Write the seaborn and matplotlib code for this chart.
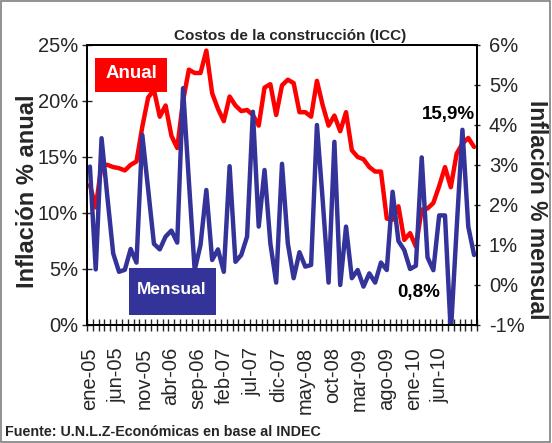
import matplotlib
matplotlib.use("Agg")
import numpy as np
import pandas as pd
import seaborn as sns
import matplotlib.pyplot as plt
from matplotlib.patches import Rectangle
from matplotlib import font_manager

# ---------------- data ----------------
mes_abbr = ["ene", "feb", "mar", "abr", "may", "jun", "jul", "ago", "sep", "oct", "nov", "dic"]
meses = [f"{mes_abbr[m]}-{y:02d}" for y in range(5, 11) for m in range(12)][:67]   # ene-05 .. jul-10

anual = [12.5, 10.5, 14.3, 14.3, 14.1, 14.0, 13.8, 14.3, 14.6, 17.7,
         20.3, 21.0, 18.6, 19.6, 16.9, 15.8, 20.0, 22.8, 22.5, 22.5,
         24.5, 20.7, 19.3, 18.2, 20.4, 19.6, 19.1, 19.2, 18.75, 17.8,
         21.2, 21.5, 18.75, 21.4, 21.9, 21.6, 19.0, 19.0, 18.6, 21.8,
         19.6, 17.8, 18.7, 17.3, 19.0, 15.6, 15.0, 14.8, 14.1, 13.7,
         13.7, 9.5, 9.4, 10.6, 7.6, 8.2, 7.0, 10.3, 10.4, 10.9,
         12.4, 14.1, 12.3, 15.3, 16.2, 16.7, 15.9]

mensual = [2.96, 0.39, 3.67, 2.2, 0.79, 0.33, 0.38, 0.9, 0.56, 3.75,
           2.4, 1.03, 0.89, 1.21, 1.36, 1.06, 4.92, 2.6, 0.375, 1.0,
           2.375, 0.625, 0.89, 0.33, 2.97, 0.58, 0.75, 1.21, 4.33, 1.46,
           2.875, 1.04, 0.06, 3.03, 1.04, 0.17, 0.82, 0.46, 0.5, 4.0,
           2.1, 0.06, 3.58, 0.0, 1.46, 0.17, 0.375, -0.04, 0.29, 0.06,
           0.56, 0.375, 2.33, 1.1, 0.875, 0.4, 0.48, 3.19, 0.69, 0.37,
           1.74, 1.74, -1.2, 1.4, 3.88, 1.46, 0.75]

etiquetas_x = ["ene-05", "jun-05", "nov-05", "abr-06", "sep-06", "feb-07", "jul-07",
               "dic-07", "may-08", "oct-08", "mar-09", "ago-09", "ene-10", "jun-10"]
ticks_anual = [0, 5, 10, 15, 20, 25]
ticks_mensual = [-1, 0, 1, 2, 3, 4, 5, 6]

# ---------------- style ----------------
sns.set_style("white")
avail = {f.name for f in font_manager.fontManager.ttflist}
base = "Liberation Sans" if "Liberation Sans" in avail else "DejaVu Sans"
plt.rcParams["font.family"] = [base, "DejaVu Sans"]

RED = "#FF0000"
BLUE = "#333399"
W, H = 552, 443

fig = plt.figure(figsize=(W / 100, H / 100), dpi=100)
L, R, T, B = 87, 477, 45, 325
ax = fig.add_axes([L / W, 1 - B / H, (R - L) / W, (B - T) / H])

df = pd.DataFrame({"idx": np.arange(len(anual)), "mes": meses,
                   "Anual": anual, "Mensual": mensual})

sns.lineplot(data=df, x="idx", y="Anual", ax=ax, color=RED, lw=3.2, legend=False)
ax2 = ax.twinx()
sns.lineplot(data=df, x="idx", y="Mensual", ax=ax2, color=BLUE, lw=3.2, legend=False)

n = len(anual)
ax.set_xlim(-0.5, n - 0.5)
ax.set_ylim(0, 25)
ax2.set_ylim(-1, 6)

# y axes
ax.set_yticks(ticks_anual)
ax.set_yticklabels([f"{v}%" for v in ticks_anual], fontsize=14.5)
ax2.set_yticks(ticks_mensual)
ax2.set_yticklabels([f"{v}%" for v in ticks_mensual], fontsize=14.5)
ax.tick_params(axis="y", direction="inout", length=7, width=1, pad=3, left=True)
ax2.tick_params(axis="y", direction="inout", length=5, width=1, pad=6, right=True)

# x axis: label positions as they appear in the reference
pos_lab = np.linspace(0, 60.2, len(etiquetas_x))
ax.set_xticks(pos_lab)
ax.set_xticklabels(etiquetas_x, rotation=90, fontsize=14.5)
ax.set_xticks(np.arange(-0.5, n, 1.0), minor=True)
ax.tick_params(axis="x", which="major", length=0, pad=16)
ax.tick_params(axis="x", which="minor", direction="inout", length=9, width=1, bottom=True)

ax.set_xlabel("")
ax.set_ylabel("Inflación % anual", fontsize=17, fontweight="bold", va="center", ha="center")
ax.yaxis.set_label_coords((28 - L) / (R - L), (B - 191) / (B - T))
ax2.set_ylabel("Inflación % mensual", fontsize=16.5, fontweight="bold", rotation=270,
               va="center", ha="center")
ax2.yaxis.set_label_coords((536 - L) / (R - L), (B - 210) / (B - T))

for a in (ax, ax2):
    for s in a.spines.values():
        s.set_color("black")
        s.set_linewidth(1.3)
    a.grid(False)

# title
fig.text(290 / W, 1 - 36 / H, "Costos de la construcción (ICC)", ha="center", va="center",
         fontsize=11, fontweight="bold")

# legend boxes
fig.add_artist(Rectangle((95 / W, 1 - 92 / H), 72 / W, 34 / H, transform=fig.transFigure,
                         fc=RED, ec="none", zorder=5))
fig.text(131 / W, 1 - 74 / H, "Anual", ha="center", va="center", color="white",
         fontsize=13.5, fontweight="bold", zorder=6)
fig.add_artist(Rectangle((129 / W, 1 - 315 / H), 87 / W, 47 / H, transform=fig.transFigure,
                         fc=BLUE, ec="none", zorder=5))
fig.text(172 / W, 1 - 290 / H, "Mensual", ha="center", va="center", color="white",
         fontsize=12.5, fontweight="bold", zorder=6)

# annotations
fig.text(448 / W, 1 - 115 / H, "15,9%", ha="center", va="center", fontsize=13.5,
         fontweight="bold", color="black")
fig.text(419 / W, 1 - 292 / H, "0,8%", ha="center", va="center", fontsize=13.5,
         fontweight="bold", color="black")

# source
fig.text(5 / W, 1 - 432 / H, "Fuente: U.N.L.Z-Económicas en base al INDEC", ha="left",
         va="center", fontsize=10.3, fontweight="bold")

# outer border
fig.add_artist(Rectangle((0.002, 0.002), 0.995, 0.995, transform=fig.transFigure,
                         fill=False, ec="#7f7f7f", lw=1.2))

fig.savefig("out.png", dpi=100)
